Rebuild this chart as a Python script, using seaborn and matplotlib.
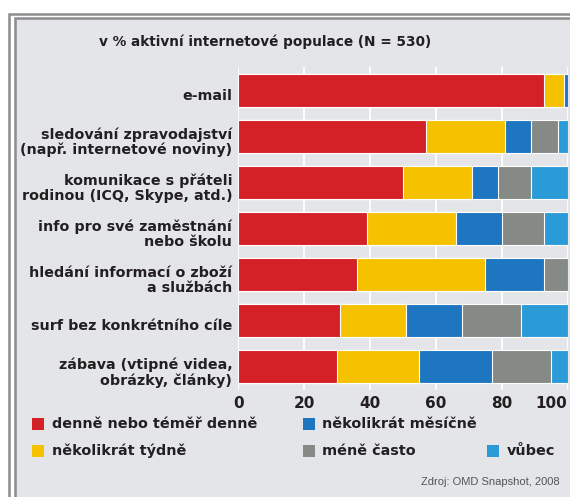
import matplotlib
matplotlib.use("Agg")
import matplotlib.pyplot as plt
from matplotlib.patches import Rectangle
from matplotlib.lines import Line2D
from matplotlib.transforms import ScaledTranslation
import numpy as np
import seaborn as sns

# Survey categories (Czech) and answer shares in percent
categories = [
    "e-mail",
    "sledování zpravodajství\n(např. internetové noviny)",
    "komunikace s přáteli\nrodinou (ICQ, Skype, atd.)",
    "info pro své zaměstnání\nnebo školu",
    "hledání informací o zboží\na službách",
    "surf bez konkrétního cíle",
    "zábava (vtipné videa,\nobrázky, články)",
]
series_names = [
    "denně nebo téměř denně",
    "několikrát týdně",
    "několikrát měsíčně",
    "méně často",
    "vůbec",
]
denne = [93, 57, 50, 39, 36, 31, 30]
tydne = [6, 24, 21, 27, 39, 20, 25]
mesicne = [1, 8, 8, 14, 18, 17, 22]
mene_casto = [0, 8, 10, 13, 7, 18, 18]
vubec = [0, 3, 11, 7, 0, 14, 5]
x_ticks = [0, 20, 40, 60, 80, 100]
title = "v % aktivní internetové populace (N = 530)"
source = "Zdroj: OMD Snapshot, 2008"

colors = ["#d42027", "#f6c200", "#1f76c0", "#868a86", "#2b9bd8"]
panel_color = "#e3e5e8"
frame_color = "#8c8c8c"
text_color = "#231f20"

W, H = 570, 497
fig = plt.figure(figsize=(W / 100, H / 100), dpi=100)
fig.patch.set_facecolor("white")


def fx(px):
    return px / W


def fy(py):
    return 1 - py / H


# Panel background and the double frame line
fig.patches.append(Rectangle((fx(15.5), 0), 1 - fx(15.5), fy(18.5),
                             transform=fig.transFigure, facecolor=panel_color,
                             edgecolor="none", zorder=-5))
for x0, y0 in [(8.7, 13.5), (14.5, 17.8)]:
    fig.add_artist(Line2D([fx(x0), fx(x0), 1], [0, fy(y0), fy(y0)],
                          transform=fig.transFigure, color=frame_color,
                          lw=1.8, solid_joinstyle="miter", zorder=-4))

ax = fig.add_axes([fx(238.3), fy(390), (567.5 - 238.3) / W, (390 - 67) / H])
ax.set_facecolor(panel_color)

# Stacked bars: draw cumulative totals from the last segment to the first
segments = np.array([denne, tydne, mesicne, mene_casto, vubec], dtype=float)
cum = np.cumsum(segments, axis=0)
for i in range(len(segments) - 1, -1, -1):
    sns.barplot(x=cum[i], y=categories, orient="h", color=colors[i],
                saturation=1, width=0.715, edgecolor="white", linewidth=0.8,
                errorbar=None, ax=ax, zorder=2)

ax.set_xlim(0, 100)
ax.set_ylim(6.5, -0.5)
ax.set_xlabel("")
ax.set_ylabel("")
ax.set_xticks(x_ticks)
ax.set_xticklabels([str(t) for t in x_ticks])
ax.xaxis.grid(True, color="white", lw=1.3)
ax.yaxis.grid(False)
ax.set_axisbelow(True)
for s in ax.spines.values():
    s.set_visible(False)
ax.tick_params(axis="both", length=0)
ax.tick_params(axis="x", pad=4.5)
ax.tick_params(axis="y", pad=4.3)

for lab in ax.get_xticklabels():
    lab.set_fontsize(11)
    lab.set_fontweight("bold")
    lab.set_color(text_color)
ax.get_xticklabels()[-1].set_horizontalalignment("right")

shift = ScaledTranslation(0, -4 / 100, fig.dpi_scale_trans)
for lab in ax.get_yticklabels():
    lab.set_fontsize(10.3)
    lab.set_fontweight("bold")
    lab.set_color(text_color)
    lab.set_linespacing(1.05)
    lab.set_horizontalalignment("right")
    lab.set_transform(lab.get_transform() + shift)

fig.text(fx(99), fy(42), title, ha="left", va="center", fontsize=9.8,
         fontweight="bold", color=text_color)

# Legend
legend_pos = [(32, 424), (32, 451), (303, 424), (303, 451), (487, 451)]
for (lx, ly), name, col in zip(legend_pos, series_names, colors):
    fig.patches.append(Rectangle((fx(lx), fy(ly + 6)), 12 / W, 12 / H,
                                 transform=fig.transFigure, facecolor=col,
                                 edgecolor="none", zorder=3))
    fig.text(fx(lx + 19.5), fy(ly), name, ha="left", va="center",
             fontsize=10.4, fontweight="bold", color=text_color)

fig.text(fx(560), fy(482), source, ha="right", va="center", fontsize=8,
         color="#555555", family="Liberation Sans")

fig.savefig("out.png", dpi=100, facecolor=fig.get_facecolor())
